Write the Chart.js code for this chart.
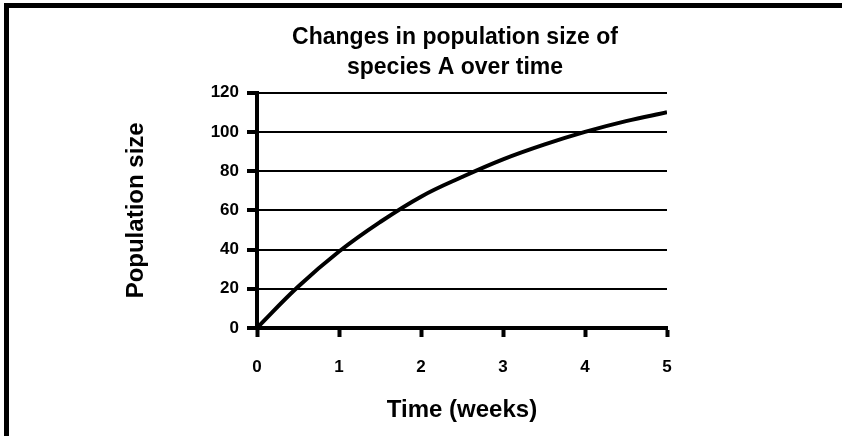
<!DOCTYPE html>
<html>
<head>
<meta charset="utf-8">
<script src="https://cdn.jsdelivr.net/npm/chart.js@4"></script>
<style>
  body { margin: 0; background: #fff; }
  #wrap { position: relative; width: 842px; height: 436px; }
  #frame { position: absolute; left: 4px; top: 3px; right: 0; bottom: 0;
           border-top: 5px solid #000; border-left: 5px solid #000; pointer-events: none; }
</style>
</head>
<body>
<div id="wrap">
  <canvas id="popChart" width="842" height="436"></canvas>
  <div id="frame"></div>
</div>
<script>
const weeks = [0, 0.5, 1, 1.5, 2, 2.5, 3, 3.5, 4, 4.5, 5];
const population = [0, 21, 39, 54, 67, 77, 86, 93.5, 100, 105.5, 110];
const xTicks = [0, 1, 2, 3, 4, 5];
const yTicks = [0, 20, 40, 60, 80, 100, 120];

const font = 'Liberation Sans, Arial, sans-serif';

// centre the title over the plot rather than over the whole canvas
const titleCentre = {
    id: 'titleCentre',
    afterLayout(chart) {
        const t = chart.titleBlock;
        if (t) {
            t.left = 243;
            t.right = 667;
            t.width = t.right - t.left;
        }
    }
};

new Chart(document.getElementById('popChart'), {
    type: 'line',
    data: {
        datasets: [{
            data: weeks.map((w, i) => ({ x: w, y: population[i] })),
            borderColor: '#000',
            borderWidth: 4,
            pointRadius: 0,
            tension: 0.4,
            fill: false
        }]
    },
    options: {
        responsive: false,
        animation: false,
        layout: { padding: { left: 0, right: 175, top: 14, bottom: 0 } },
        plugins: {
            legend: { display: false },
            tooltip: { enabled: false },
            title: {
                display: true,
                text: ['Changes in population size of', 'species A over time'],
                color: '#000',
                font: { family: font, size: 23, weight: 'bold', lineHeight: 1.32 },
                padding: { top: 8, bottom: 10 }
            }
        },
        scales: {
            x: {
                type: 'linear',
                min: 0,
                max: 5,
                afterBuildTicks: (s) => { s.ticks = xTicks.map((v) => ({ value: v })); },
                afterFit: (s) => { s.height = 436 - 328; },
                border: { display: true, color: '#000', width: 4 },
                grid: { drawOnChartArea: false, drawTicks: true, tickLength: 9, tickWidth: 4, tickColor: '#000' },
                ticks: { color: '#000', font: { family: font, size: 17, weight: 'bold' }, padding: 20 },
                title: {
                    display: true,
                    text: 'Time (weeks)',
                    color: '#000',
                    font: { family: font, size: 24, weight: 'bold' },
                    padding: { top: 11, bottom: 11 }
                }
            },
            y: {
                min: 0,
                max: 120,
                afterBuildTicks: (s) => { s.ticks = yTicks.map((v) => ({ value: v })); },
                afterFit: (s) => { s.width = 257; },
                border: { display: true, color: '#000', width: 4 },
                grid: { color: '#000', lineWidth: 2, drawTicks: true, tickLength: 10, tickWidth: 4, tickColor: '#000' },
                ticks: { color: '#000', font: { family: font, size: 17, weight: 'bold' }, padding: 8 },
                title: {
                    display: true,
                    text: 'Population size',
                    color: '#000',
                    font: { family: font, size: 24, weight: 'bold' },
                    padding: { top: 122, bottom: 122 }
                }
            }
        }
    },
    plugins: [titleCentre]
});
</script>
</body>
</html>
